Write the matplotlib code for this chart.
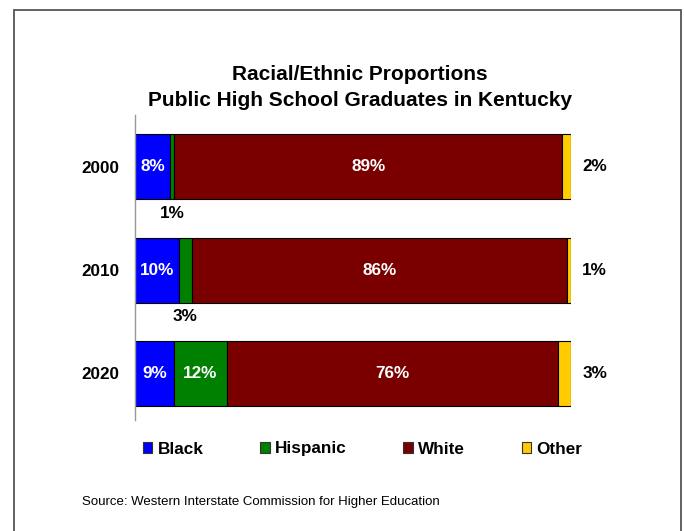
import matplotlib
matplotlib.use("Agg")
import matplotlib.pyplot as plt
from matplotlib.patches import Rectangle, Patch

plt.rcParams['font.family'] = ['Liberation Sans', 'DejaVu Sans']

years = ["2000", "2010", "2020"]
groups = ["Black", "Hispanic", "White", "Other"]
black = [8, 10, 9]
hispanic = [1, 3, 12]
white = [89, 86, 76]
other = [2, 1, 3]
colors = ["#0000FF", "#008000", "#7A0000", "#FFCC00"]

series = [black, hispanic, white, other]

fig = plt.figure(figsize=(6.84, 5.31), dpi=100)
ax = fig.add_axes([135/684, (531-420)/531, (571-135)/684, 305/531])

ypos = list(range(len(years)))
left = [0]*len(years)
for vals, col, name in zip(series, colors, groups):
    ax.barh(ypos, vals, left=left, height=0.63, color=col,
            edgecolor="black", linewidth=0.8, label=name)
    left = [l + v for l, v in zip(left, vals)]

FS = 12.3
for i in ypos:
    l0 = 0
    for vals, name in zip(series, groups):
        v = vals[i]
        cx = l0 + v/2
        txt = f"{v}%"
        if name == "Other":
            ax.text(l0 + v + 5.4, i, txt, ha="center", va="center",
                    fontsize=FS, fontweight="bold", color="black")
        elif name == "Hispanic" and v < 5:
            ax.text(cx, i + 0.45, txt, ha="center", va="center",
                    fontsize=FS, fontweight="bold", color="black")
        else:
            ax.text(cx, i, txt, ha="center", va="center",
                    fontsize=FS, fontweight="bold", color="white")
        l0 += v

ax.set_xlim(0, 100)
ax.set_ylim(2.45, -0.5)
ax.set_yticks(ypos)
ax.set_yticklabels(years, fontsize=FS, fontweight="bold")
ax.tick_params(axis="y", length=0, pad=11)
ax.set_xticks([])
for s in ["top", "right", "bottom"]:
    ax.spines[s].set_visible(False)
ax.spines["left"].set_color("#999999")
ax.spines["left"].set_linewidth(1.0)

fig.text(360/684, 1 - 75/531, "Racial/Ethnic Proportions", ha="center", va="center",
         fontsize=15, fontweight="bold")
fig.text(360/684, 1 - 100/531, "Public High School Graduates in Kentucky", ha="center",
         va="center", fontsize=15, fontweight="bold")

handles = [Patch(facecolor=c, edgecolor="#333333", linewidth=0.8) for c in colors]
fig.legend(handles, groups, loc="center left", bbox_to_anchor=(143/684, 1 - 449/531),
           ncol=4, frameon=False, prop={"weight": "bold", "size": FS},
           handlelength=0.55, handleheight=0.55, handletextpad=0.3,
           columnspacing=3.33, borderaxespad=0, borderpad=0)

fig.text(82/684, 1 - 502/531, "Source: Western Interstate Commission for Higher Education",
         ha="left", va="center", fontsize=9.5)

fig.patches.append(Rectangle((14/684, -0.1), (681-14)/684, 1.1 - 10/531,
                             transform=fig.transFigure, fill=False,
                             edgecolor="#555555", linewidth=1.3))

fig.savefig("out.png", dpi=100)
